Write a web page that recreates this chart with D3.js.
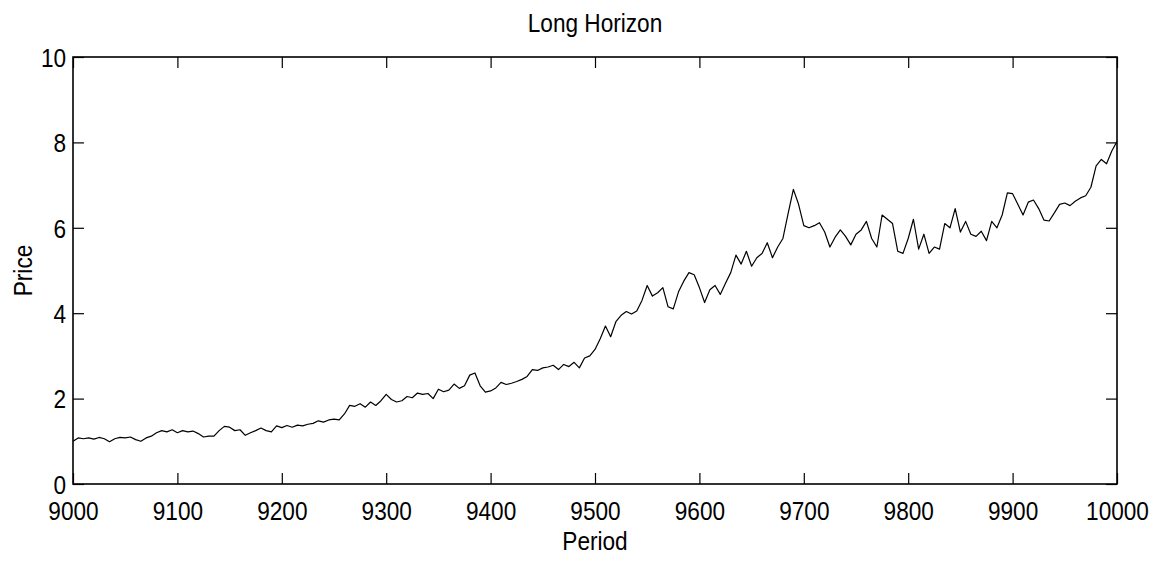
<!DOCTYPE html>
<html>
<head>
<meta charset="utf-8">
<script src="https://cdn.jsdelivr.net/npm/d3@7"></script>
<style>
  html, body { margin: 0; padding: 0; background: #fff; }
  svg text { font-family: "Liberation Sans", Arial, Helvetica, sans-serif; fill: #000; }
</style>
</head>
<body>
<svg id="chart" width="1160" height="563"></svg>
<script>
// Price path, one value every 5 periods from 9000 to 10000
const periodStart = 9000;
const periodStep = 5;
const price = [
  1.00, 1.08, 1.06, 1.08, 1.05, 1.09, 1.06, 0.99, 1.06, 1.09,
  1.08, 1.10, 1.04, 1.00, 1.08, 1.12, 1.20, 1.25, 1.22, 1.27,
  1.20, 1.25, 1.22, 1.24, 1.18, 1.10, 1.12, 1.12, 1.25, 1.35,
  1.33, 1.25, 1.27, 1.14, 1.20, 1.25, 1.31, 1.25, 1.22, 1.36,
  1.32, 1.37, 1.33, 1.38, 1.36, 1.40, 1.42, 1.48, 1.45, 1.50,
  1.52, 1.50, 1.64, 1.84, 1.82, 1.88, 1.80, 1.92, 1.84, 1.95,
  2.10, 1.98, 1.92, 1.95, 2.05, 2.02, 2.13, 2.10, 2.12, 2.00,
  2.22, 2.16, 2.20, 2.34, 2.24, 2.30, 2.55, 2.60, 2.30, 2.15,
  2.18, 2.25, 2.38, 2.33, 2.36, 2.40, 2.45, 2.52, 2.68, 2.66,
  2.72, 2.74, 2.78, 2.68, 2.80, 2.75, 2.85, 2.72, 2.95, 3.00,
  3.15, 3.40, 3.70, 3.45, 3.80, 3.95, 4.04, 3.98, 4.05, 4.30,
  4.65, 4.40, 4.48, 4.60, 4.15, 4.10, 4.50, 4.75, 4.95, 4.90,
  4.60, 4.25, 4.55, 4.65, 4.44, 4.70, 4.95, 5.36, 5.15, 5.45,
  5.10, 5.30, 5.40, 5.65, 5.30, 5.55, 5.75, 6.34, 6.90, 6.55,
  6.05, 6.00, 6.05, 6.12, 5.90, 5.55, 5.78, 5.95, 5.80, 5.60,
  5.85, 5.95, 6.15, 5.75, 5.55, 6.30, 6.20, 6.10, 5.45, 5.40,
  5.75, 6.20, 5.50, 5.85, 5.40, 5.55, 5.50, 6.10, 6.00, 6.45,
  5.90, 6.15, 5.85, 5.80, 5.92, 5.70, 6.15, 6.00, 6.30, 6.82,
  6.80, 6.55, 6.30, 6.60, 6.65, 6.45, 6.18, 6.16, 6.35, 6.55,
  6.58, 6.52, 6.62, 6.70, 6.75, 6.95, 7.45, 7.60, 7.50, 7.80,
  8.02
];
const xTicks = [9000, 9100, 9200, 9300, 9400, 9500, 9600, 9700, 9800, 9900, 10000];
const yTicks = [0, 2, 4, 6, 8, 10];
const titleText = "Long Horizon";
const xLabel = "Period";
const yLabel = "Price";

const series = price.map((v, i) => ({ period: periodStart + i * periodStep, value: v }));

const margin = { left: 73, right: 43, top: 57, bottom: 79 };
const W = 1160, H = 563;
const svg = d3.select("#chart");

const x = d3.scaleLinear().domain([9000, 10000]).range([margin.left, W - margin.right]);
const y = d3.scaleLinear().domain([0, 10]).range([H - margin.bottom, margin.top]);

const fontSize = 26;
const squeeze = 0.87;
const tickLen = 11;

// price line
svg.append("path")
  .datum(series)
  .attr("fill", "none")
  .attr("stroke", "#000")
  .attr("stroke-width", 1.2)
  .attr("stroke-linejoin", "round")
  .attr("d", d3.line().x(d => x(d.period)).y(d => y(d.value)));

function styleAxis(g) {
  g.select(".domain").remove();
  g.selectAll(".tick line").attr("stroke", "#000").attr("stroke-width", 1.2);
  g.selectAll("text")
    .attr("font-size", fontSize)
    .attr("fill", "#000")
    .attr("font-family", '"Liberation Sans", Arial, sans-serif');
}

// bottom axis with labels
svg.append("g")
  .attr("transform", `translate(0,${y(0)})`)
  .call(d3.axisBottom(x).tickValues(xTicks).tickFormat(d3.format("d")).tickSize(-tickLen).tickPadding(18))
  .call(styleAxis)
  .call(g => g.selectAll("text").attr("transform", `scale(${squeeze},1)`));

// top axis, ticks only
svg.append("g")
  .attr("transform", `translate(0,${y(10)})`)
  .call(d3.axisTop(x).tickValues(xTicks).tickFormat("").tickSize(-tickLen))
  .call(styleAxis);

// left axis with labels
svg.append("g")
  .attr("transform", `translate(${x(9000)},0)`)
  .call(d3.axisLeft(y).tickValues(yTicks).tickFormat(d3.format("d")).tickSize(-tickLen).tickPadding(8))
  .call(styleAxis)
  .call(g => g.selectAll("text").attr("transform", `scale(${squeeze},1)`).attr("dy", "0.36em"));

// right axis, ticks only
svg.append("g")
  .attr("transform", `translate(${x(10000)},0)`)
  .call(d3.axisRight(y).tickValues(yTicks).tickFormat("").tickSize(-tickLen))
  .call(styleAxis);

// frame
svg.append("rect")
  .attr("x", x(9000)).attr("y", y(10))
  .attr("width", x(10000) - x(9000)).attr("height", y(0) - y(10))
  .attr("fill", "none").attr("stroke", "#000").attr("stroke-width", 1.6);

// title and axis labels
const midX = (x(9000) + x(10000)) / 2;
const midY = (y(0) + y(10)) / 2;

svg.append("text")
  .attr("transform", `translate(${midX},32) scale(${squeeze},1)`)
  .attr("text-anchor", "middle")
  .attr("font-size", fontSize)
  .text(titleText);

svg.append("text")
  .attr("transform", `translate(${midX},550) scale(${squeeze},1)`)
  .attr("text-anchor", "middle")
  .attr("font-size", fontSize)
  .text(xLabel);

svg.append("text")
  .attr("transform", `translate(32,${midY}) rotate(-90) scale(${squeeze},1)`)
  .attr("text-anchor", "middle")
  .attr("font-size", fontSize)
  .text(yLabel);
</script>
</body>
</html>
